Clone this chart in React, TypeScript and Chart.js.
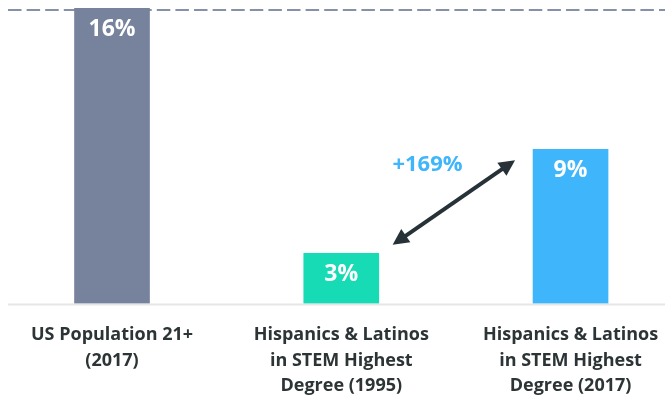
import React, { useEffect, useRef } from 'react';
import { Chart, registerables } from 'chart.js';

Chart.register(...registerables);

// ---- data ----
const categories: string[][] = [
  ['US Population 21+', '(2017)'],
  ['Hispanics & Latinos', 'in STEM Highest', 'Degree (1995)'],
  ['Hispanics & Latinos', 'in STEM Highest', 'Degree (2017)'],
];
const barValues = [16, 2.71, 8.35];
const valueLabels = ['16%', '3%', '9%'];
const barColors = ['#77839d', '#17dbb4', '#3fb6fb'];
const referenceValue = 15.89;
const changeLabel = '+169%';
// annotation anchors in data units (x = category index, y = value)
const arrowFrom = { x: 1.224, y: 3.18 };
const arrowTo = { x: 1.758, y: 7.76 };
const changeLabelAt = { x: 1.376, y: 7.54 };

const FONT = "'Open Sans'";

const overlayPlugin = {
  id: 'overlay',
  beforeDatasetsDraw(chart: any) {
    const { ctx, chartArea, scales } = chart;
    const y = scales.y.getPixelForValue(referenceValue);
    ctx.save();
    // baseline
    ctx.fillStyle = '#e6e6e6';
    ctx.fillRect(chartArea.left, chartArea.bottom, chartArea.right - chartArea.left, 2);
    // dashed reference line
    ctx.strokeStyle = '#8591a8';
    ctx.lineWidth = 2;
    ctx.setLineDash([13.5, 5.1]);
    ctx.beginPath();
    ctx.moveTo(chartArea.left, y);
    ctx.lineTo(chartArea.right, y);
    ctx.stroke();
    ctx.restore();
  },
  afterDatasetsDraw(chart: any) {
    const { ctx, scales } = chart;
    const xs = scales.x;
    const ys = scales.y;
    ctx.save();
    // value labels inside bars
    ctx.fillStyle = '#ffffff';
    ctx.font = `bold 23px ${FONT}`;
    ctx.textAlign = 'center';
    ctx.textBaseline = 'middle';
    barValues.forEach((v, i) => {
      ctx.fillText(valueLabels[i], xs.getPixelForValue(i), ys.getPixelForValue(v) + 21);
    });
    // change label
    ctx.fillStyle = '#3fb6fb';
    ctx.font = `bold 22px ${FONT}`;
    ctx.fillText(changeLabel, xs.getPixelForValue(changeLabelAt.x), ys.getPixelForValue(changeLabelAt.y));
    // double arrow
    const x1 = xs.getPixelForValue(arrowFrom.x);
    const y1 = ys.getPixelForValue(arrowFrom.y);
    const x2 = xs.getPixelForValue(arrowTo.x);
    const y2 = ys.getPixelForValue(arrowTo.y);
    const ang = Math.atan2(y2 - y1, x2 - x1);
    const headLen = 16;
    const headHalf = 8;
    const cos = Math.cos(ang);
    const sin = Math.sin(ang);
    ctx.strokeStyle = '#263238';
    ctx.fillStyle = '#263238';
    ctx.lineWidth = 4;
    ctx.beginPath();
    ctx.moveTo(x1 + cos * (headLen - 2), y1 + sin * (headLen - 2));
    ctx.lineTo(x2 - cos * (headLen - 2), y2 - sin * (headLen - 2));
    ctx.stroke();
    const head = (tx: number, ty: number, dir: number) => {
      const bx = tx - dir * cos * headLen;
      const by = ty - dir * sin * headLen;
      ctx.beginPath();
      ctx.moveTo(tx, ty);
      ctx.lineTo(bx - sin * headHalf, by + cos * headHalf);
      ctx.lineTo(bx + sin * headHalf, by - cos * headHalf);
      ctx.closePath();
      ctx.fill();
    };
    head(x2, y2, 1);
    head(x1, y1, -1);
    ctx.restore();
  },
};

export default function App() {
  const ref = useRef<HTMLCanvasElement | null>(null);
  useEffect(() => {
    document.body.style.margin = '0';
    document.body.style.overflow = 'hidden';
    const canvas = ref.current;
    if (!canvas) return;
    const chart = new Chart(canvas, {
      type: 'bar',
      data: {
        datasets: [
          {
            data: barValues.map((v, i) => ({ x: i, y: v })),
            backgroundColor: barColors,
            borderWidth: 0,
            barThickness: 75,
          },
        ],
      },
      options: {
        responsive: false,
        animation: false,
        devicePixelRatio: 1,
        layout: { padding: { left: 8, right: 0, top: 8, bottom: 0 } },
        scales: {
          x: {
            type: 'linear',
            offset: false,
            min: -0.4537,
            max: 2.412,
            grid: { display: false, drawTicks: false, offset: false },
            border: { display: false },
            afterBuildTicks: (s: any) => {
              s.ticks = categories.map((_, i) => ({ value: i }));
            },
            afterFit: (s: any) => {
              s.paddingLeft = 0;
              s.paddingRight = 0;
            },
            ticks: {
              autoSkip: false,
              maxRotation: 0,
              minRotation: 0,
              padding: 19,
              color: '#2d3436',
              font: { family: FONT, weight: 'bold', size: 18, lineHeight: 25.5 / 18 },
              callback: (v: any) => categories[v as number] ?? '',
            },
          },
          y: { display: false, min: 0, max: 16 },
        },
        plugins: { legend: { display: false }, tooltip: { enabled: false } },
      } as any,
      plugins: [overlayPlugin],
    });
    return () => chart.destroy();
  }, []);
  return (
    <div style={{ width: 665, height: 403, overflow: 'hidden' }}>
      <canvas ref={ref} width={665} height={418} style={{ display: 'block' }} />
    </div>
  );
}
